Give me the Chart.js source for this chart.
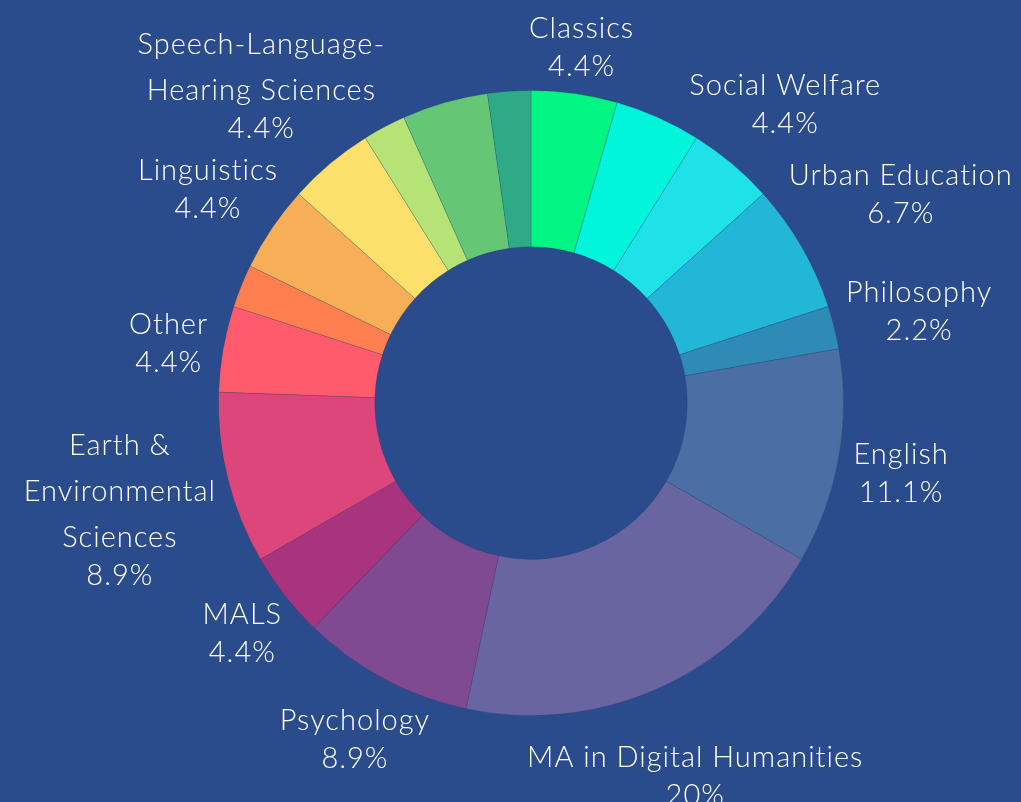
<!DOCTYPE html>
<html>
<head>
<meta charset="utf-8">
<script src="https://cdn.jsdelivr.net/npm/chart.js@4.4.0/dist/chart.umd.min.js"></script>
<style>
  html, body { margin: 0; padding: 0; background: #2b4c8c; }
  #wrap { width: 1021px; height: 802px; position: relative; }
</style>
</head>
<body>
<div id="wrap"><canvas id="donut"></canvas></div>
<script>
// programs, clockwise from 12 o'clock ('' = slice whose label is hidden)
const programs = [
  'Classics', '', 'Social Welfare', 'Urban Education', 'Philosophy', 'English',
  'MA in Digital Humanities', 'Psychology', 'MALS',
  ['Earth &', 'Environmental', 'Sciences'], 'Other', '', 'Linguistics',
  ['Speech-Language-', 'Hearing Sciences'], '', '', ''
];
const students = [2, 2, 2, 3, 1, 5, 9, 4, 2, 4, 2, 1, 2, 2, 1, 2, 1];
const sliceColors = [
  '#00f582', '#00f5da', '#1fe2e8', '#22b7d6', '#2f8ab5', '#4b6ea4',
  '#6965a0', '#804a93', '#a8347f', '#dc467a', '#ff5b6c', '#ff7f50',
  '#f6ae57', '#fce06c', '#b6e375', '#65c776', '#2eaa87'
];

const FONT_PX = 29;
const NAME_LH = 46;
const PCT_LH = 38;

function pctLabel(v, total) {
  let s = (v / total * 100).toFixed(1);
  if (s.endsWith('.0')) s = s.slice(0, -2);
  return s + '%';
}

const outsideLabels = {
  id: 'outsideLabels',
  afterDatasetsDraw(chart) {
    const ctx = chart.ctx;
    const meta = chart.getDatasetMeta(0);
    const total = students.reduce((a, b) => a + b, 0);
    ctx.save();
    ctx.fillStyle = '#ffffff';
    ctx.font = '300 ' + FONT_PX + 'px Lato, "Noto Sans", sans-serif';
    ctx.letterSpacing = '1px';
    ctx.textAlign = 'center';
    ctx.textBaseline = 'middle';
    meta.data.forEach((arc, i) => {
      const name = programs[i];
      if (!name || !name.length) return;
      const lines = [].concat(name);
      lines.push(pctLabel(students[i], total));
      const p = arc.getProps(['x', 'y', 'startAngle', 'endAngle', 'outerRadius'], true);
      const mid = (p.startAngle + p.endAngle) / 2;
      const vx = Math.cos(mid), vy = Math.sin(mid);
      const w = Math.max(...lines.map(t => ctx.measureText(t).width));
      const span = (lines.length - 2) * NAME_LH + PCT_LH;
      const h = span + FONT_PX + 2;
      const r = p.outerRadius + 16 + Math.hypot(vx * w / 2, vy * h / 2);
      const cx = p.x + vx * r;
      const cy = p.y + vy * r + 5;
      let y = cy - span / 2;
      lines.forEach((t, k) => {
        const lw = ctx.measureText(t).width;
        const x = Math.min(cx, chart.width - 2 - lw / 2);
        ctx.fillText(t, x, y);
        y += (k === lines.length - 2) ? PCT_LH : NAME_LH;
      });
    });
    ctx.restore();
  }
};

new Chart(document.getElementById('donut'), {
  type: 'doughnut',
  data: {
    labels: programs,
    datasets: [{
      data: students,
      backgroundColor: sliceColors,
      borderColor: 'rgba(30, 50, 90, 0.2)',
      borderWidth: 1
    }]
  },
  options: {
    responsive: true,
    maintainAspectRatio: false,
    animation: false,
    cutout: '50%',
    layout: { padding: { top: 90, bottom: 86, left: 41, right: 0 } },
    plugins: {
      legend: { display: false },
      tooltip: { enabled: false }
    }
  },
  plugins: [outsideLabels]
});
</script>
</body>
</html>
